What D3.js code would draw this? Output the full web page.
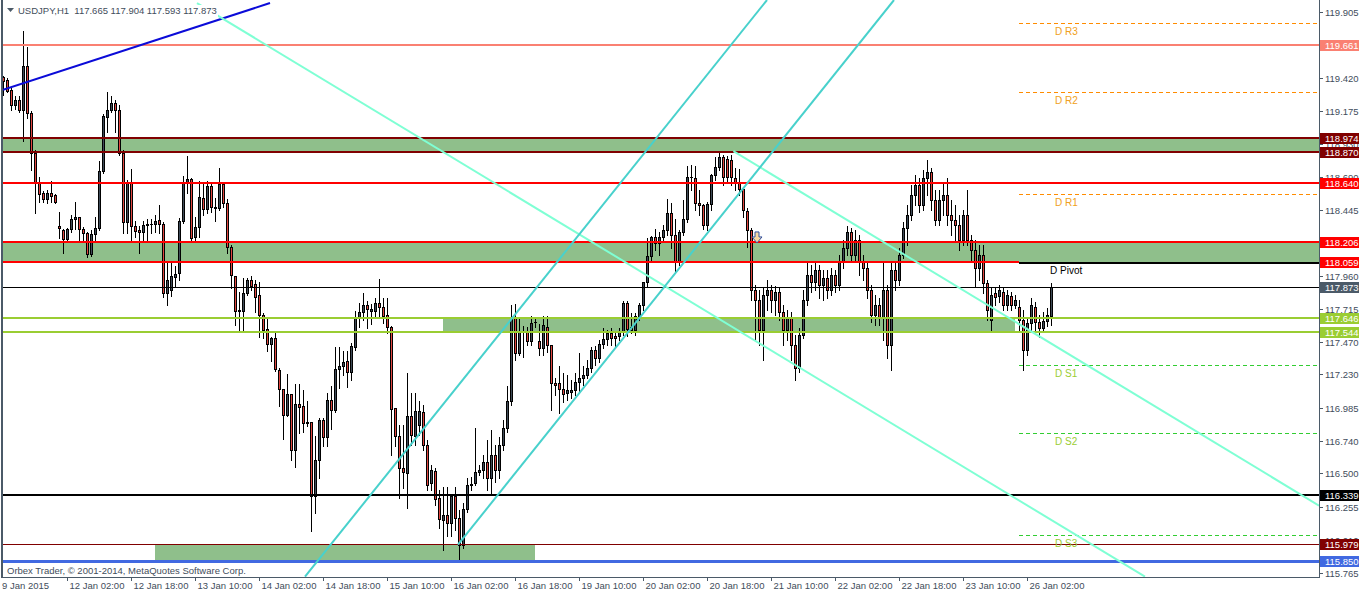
<!DOCTYPE html>
<html><head><meta charset="utf-8">
<script src="https://cdn.jsdelivr.net/npm/d3@7"></script>
<style>html,body{margin:0;padding:0;background:#fff;overflow:hidden}svg{display:block;font-family:"Liberation Sans",Arial,sans-serif}</style>
</head><body><svg id="chart" width="1362" height="594"></svg>
<script>
// ---------------- DATA ----------------
const headerText = "USDJPY,H1  117.665 117.904 117.593 117.873";
const copyrightText = "Orbex Trader, \u00a9 2001-2014, MetaQuotes Software Corp.";
// H1 candles, [open, high, low, close], first bar 9 Jan 2015 10:00
const ohlc = [
[119.425,119.433,119.293,119.396],[119.404,119.418,119.315,119.323],[119.330,119.345,119.182,119.219],[119.219,119.286,119.189,119.256],
[119.256,119.286,119.167,119.182],[119.182,119.765,118.954,119.507],[119.507,119.647,119.123,119.160],[119.160,119.175,118.740,118.865],
[118.865,118.887,118.423,118.651],[118.651,118.688,118.504,118.563],[118.570,118.587,118.506,118.526],[118.526,118.592,118.497,118.570],
[118.570,118.659,118.506,118.548],[118.555,118.563,118.499,118.506],[118.327,118.428,118.236,118.310],[118.297,118.305,118.128,118.231],
[118.231,118.310,118.204,118.305],[118.305,118.408,118.278,118.378],[118.378,118.506,118.302,118.393],[118.393,118.395,118.211,118.302],
[118.302,118.317,118.211,118.273],[118.273,118.285,118.096,118.118],[118.118,118.297,118.106,118.266],[118.268,118.395,118.218,118.312],
[118.312,118.806,118.297,118.732],[118.732,119.153,118.718,119.138],[119.133,119.317,119.022,119.182],[119.182,119.286,119.167,119.236],
[119.236,119.256,119.022,119.182],[119.182,119.219,118.850,118.867],[118.865,118.887,118.275,118.356],[118.356,118.666,118.275,118.651],
[118.651,118.745,118.211,118.327],[118.327,118.366,118.248,118.292],[118.297,118.327,118.126,118.278],[118.278,118.359,118.217,118.334],
[118.334,118.376,118.217,118.339],[118.339,118.376,118.273,118.341],[118.339,118.408,118.278,118.364],[118.371,118.482,118.275,118.339],
[118.339,118.356,117.805,117.830],[117.830,118.052,117.744,117.929],[117.855,118.052,117.811,117.958],[117.953,118.027,117.879,117.973],
[117.978,118.384,117.929,118.364],[118.364,118.696,118.349,118.654],[118.654,118.843,118.568,118.671],[118.671,118.681,118.211,118.236],
[118.243,118.395,118.211,118.317],[118.317,118.661,118.248,118.538],[118.531,118.654,118.408,118.450],[118.450,118.659,118.420,118.622],
[118.622,118.654,118.432,118.465],[118.465,118.531,118.359,118.457],[118.457,118.757,118.445,118.637],[118.637,118.646,118.465,118.494],
[118.494,118.524,118.126,118.170],[118.170,118.187,117.870,117.966],[117.958,117.958,117.597,117.695],[117.708,117.842,117.547,117.695],
[117.700,117.940,117.547,117.830],[117.830,117.945,117.818,117.929],[117.929,117.958,117.855,117.884],[117.897,117.929,117.688,117.805],
[117.818,117.916,117.506,117.666],[117.666,117.686,117.501,117.560],[117.565,117.648,117.400,117.457],[117.457,117.508,117.326,117.499],
[117.499,117.547,117.253,117.270],[117.265,117.277,116.994,117.123],[117.123,117.125,116.754,116.928],[116.928,117.236,116.921,117.086],
[117.086,117.088,116.601,116.670],[116.670,117.159,116.544,117.012],[117.014,117.161,116.800,116.990],[116.994,117.117,116.802,116.872],
[116.876,117.031,116.847,116.872],[116.876,116.881,116.073,116.336],[116.331,116.776,116.211,116.601],[116.601,116.909,116.467,116.891],
[116.896,116.909,116.699,116.769],[116.769,117.095,116.699,117.044],[117.044,117.142,116.830,116.970],[116.970,117.435,116.955,117.272],
[117.272,117.433,117.130,117.294],[117.289,117.400,117.228,117.324],[117.329,117.400,117.134,117.245],[117.245,117.464,117.191,117.437],
[117.430,117.695,117.413,117.651],[117.651,117.761,117.580,117.690],[117.690,117.830,117.634,117.744],[117.744,117.769,117.572,117.713],
[117.695,117.749,117.604,117.713],[117.695,117.794,117.648,117.761],[117.761,117.934,117.648,117.727],[117.727,117.794,117.612,117.663],
[117.671,117.796,117.535,117.584],[117.584,117.589,116.638,116.975],[116.982,116.985,116.699,116.773],[116.773,116.859,116.319,116.540],
[116.540,116.859,116.392,116.508],[116.503,117.240,116.245,116.920],[116.920,117.095,116.712,116.786],[116.773,117.095,116.712,116.957],
[116.859,117.031,116.786,116.957],[116.953,117.007,116.675,116.712],[116.712,116.749,116.380,116.417],[116.429,116.564,116.380,116.522],
[116.515,116.542,116.269,116.311],[116.319,116.380,116.100,116.164],[116.159,116.400,115.937,116.196],[116.196,116.400,116.041,116.134],
[116.134,116.343,116.036,116.336],[116.336,116.400,116.085,116.171],[116.171,116.232,115.864,115.974],[115.974,116.282,115.952,116.237],
[116.237,116.466,116.218,116.417],[116.417,116.476,116.380,116.422],[116.429,116.836,116.417,116.508],[116.508,116.564,116.490,116.522],
[116.527,116.638,116.469,116.586],[116.586,116.749,116.380,116.469],[116.469,116.822,116.343,116.638],[116.638,116.712,116.439,116.527],
[116.527,116.771,116.469,116.712],[116.712,116.896,116.675,116.836],[116.836,117.142,116.808,117.031],[117.031,117.744,117.007,117.639],
[117.646,117.752,117.339,117.388],[117.388,117.639,117.376,117.553],[117.553,117.589,117.356,117.548],[117.553,117.577,117.450,117.474],
[117.474,117.664,117.450,117.609],[117.614,117.646,117.584,117.617],[117.474,117.599,117.376,117.425],[117.425,117.658,117.376,117.597],
[117.584,117.658,117.398,117.450],[117.450,117.450,116.970,117.167],[117.167,117.206,117.081,117.154],[117.167,117.289,116.946,117.123],
[117.123,117.240,117.029,117.088],[117.093,117.228,117.044,117.117],[117.098,117.191,117.058,117.117],[117.112,117.240,117.081,117.171],
[117.171,117.388,117.093,117.204],[117.204,117.289,117.154,117.228],[117.228,117.339,117.206,117.277],[117.277,117.432,117.250,117.407],
[117.407,117.437,117.302,117.351],[117.351,117.481,117.319,117.457],[117.457,117.572,117.428,117.491],[117.491,117.560,117.450,117.535],
[117.535,117.572,117.450,117.499],[117.516,117.547,117.437,117.499],[117.516,117.572,117.486,117.543],[117.543,117.769,117.523,117.757],
[117.757,117.769,117.516,117.565],[117.580,117.683,117.538,117.560],[117.560,117.683,117.523,117.658],[117.658,117.757,117.634,117.744],
[117.744,117.916,117.708,117.909],[117.909,118.236,117.879,118.106],[118.106,118.253,118.062,118.243],[118.243,118.302,118.150,118.199],
[118.199,118.285,118.113,118.243],[118.243,118.334,118.224,118.297],[118.297,118.524,118.261,118.420],[118.420,118.499,118.162,118.261],
[118.261,118.376,117.990,118.064],[118.064,118.297,118.040,118.285],[118.285,118.519,118.261,118.376],[118.376,118.770,118.356,118.686],
[118.686,118.777,118.592,118.688],[118.679,118.770,118.445,118.499],[118.499,118.592,118.408,118.482],[118.482,118.489,118.302,118.334],
[118.334,118.506,118.297,118.489],[118.489,118.710,118.445,118.703],[118.703,118.834,118.666,118.764],[118.764,118.863,118.740,118.834],
[118.834,118.851,118.629,118.686],[118.819,118.843,118.642,118.686],[118.814,118.851,118.629,118.690],[118.679,118.752,118.592,118.654],
[118.654,118.745,118.555,118.597],[118.597,118.605,118.395,118.445],[118.440,118.457,118.174,118.297],[118.297,118.312,117.781,117.855],
[117.855,117.892,117.486,117.781],[117.781,117.855,117.450,117.560],[117.560,117.870,117.339,117.818],[117.818,117.929,117.708,117.855],
[117.855,117.892,117.693,117.781],[117.781,117.884,117.671,117.840],[117.840,117.870,117.634,117.693],[117.693,117.744,117.450,117.560],
[117.560,117.708,117.486,117.648],[117.648,117.693,117.339,117.450],[117.450,117.523,117.191,117.280],[117.280,117.575,117.250,117.523],
[117.523,117.855,117.501,117.781],[117.781,118.062,117.744,117.966],[117.966,118.040,117.840,117.914],[117.914,118.062,117.855,118.003],
[118.003,118.040,117.796,117.892],[117.892,118.003,117.781,117.943],[117.943,118.003,117.796,117.855],[117.855,118.017,117.818,117.966],
[117.966,118.003,117.840,117.892],[117.892,118.113,117.855,118.062],[118.062,118.224,118.017,118.165],[118.165,118.327,118.113,118.283],
[118.283,118.312,118.062,118.113],[118.113,118.297,118.062,118.224],[118.224,118.261,117.966,118.062],[118.062,118.113,117.929,118.017],
[118.017,118.062,117.796,117.855],[117.855,117.892,117.619,117.671],[117.671,117.818,117.597,117.744],[117.744,117.796,117.597,117.648],
[117.648,118.062,117.486,117.855],[117.855,117.892,117.354,117.450],[117.450,118.062,117.265,118.003],[118.003,118.062,117.855,117.929],
[117.929,118.165,117.892,118.113],[118.113,118.356,118.091,118.312],[118.312,118.482,118.187,118.408],[118.408,118.629,118.371,118.555],
[118.555,118.703,118.482,118.629],[118.629,118.681,118.430,118.482],[118.482,118.740,118.445,118.681],[118.681,118.814,118.555,118.725],
[118.725,118.755,118.445,118.519],[118.519,118.592,118.334,118.371],[118.371,118.592,118.334,118.519],[118.519,118.651,118.408,118.555],
[118.555,118.681,118.334,118.408],[118.408,118.519,118.261,118.371],[118.371,118.482,118.224,118.334],[118.334,118.408,118.150,118.224],
[118.224,118.445,118.187,118.408],[118.408,118.592,118.187,118.224],[118.224,118.261,118.062,118.150],[118.150,118.224,117.877,118.017],
[118.017,118.187,117.929,118.113],[118.113,118.187,117.833,117.907],[117.907,117.929,117.634,117.708],[117.634,117.870,117.545,117.818],
[117.833,117.870,117.744,117.803],[117.811,117.892,117.766,117.855],[117.840,117.870,117.708,117.744],[117.744,117.855,117.708,117.818],
[117.811,117.840,117.708,117.744],[117.744,117.818,117.722,117.781],[117.730,117.781,117.560,117.634],[117.634,117.708,117.265,117.413],
[117.413,117.648,117.376,117.612],[117.612,117.796,117.560,117.744],[117.730,117.766,117.560,117.619],[117.619,117.671,117.508,117.575],
[117.575,117.693,117.545,117.626],[117.626,117.722,117.590,117.671],[117.665,117.904,117.593,117.873]
];
const timeLabels = ["9 Jan 2015","12 Jan 02:00","12 Jan 18:00","13 Jan 10:00","14 Jan 02:00","14 Jan 18:00","15 Jan 10:00","16 Jan 02:00","16 Jan 18:00","19 Jan 10:00","20 Jan 02:00","20 Jan 18:00","21 Jan 10:00","22 Jan 02:00","22 Jan 18:00","23 Jan 10:00","26 Jan 02:00"];
const timeLabelBars = [0,16,32,48,64,80,96,112,128,144,160,176,192,208,224,240,256];
// visible price-scale labels (the ones at 119.660 and 118.200 sit fully under level boxes)
const priceTicks = [119.905,119.420,119.175,118.930,118.690,118.445,117.960,117.715,117.470,117.230,116.985,116.740,116.500,116.255,116.010,115.765];
const levelPrices = [119.661,118.974,118.870,118.640,118.206,118.059,117.873,117.646,117.544,116.339,115.979,115.850];
const zonePrices = [[118.974,118.870],[118.206,118.059],[117.646,117.544],[115.979,115.850]];
const zoneBars = [[null,null],[null,null],[110,253],[38,133]];
const pivotNames = ["D R3","D R2","D R1","D Pivot","D S1","D S2","D S3"];
const pivotPrices = [119.822,119.312,118.562,118.056,117.298,116.796,116.045];
const pivotStartBar = 254;
// trend lines: two anchor points [bar, price]
const trendLines = [
  [[0,119.330],[66.75,119.971]],
  [[48.5,119.971],[285.5,115.738]],
  [[182.6,118.878],[329,116.262]],
  [[75.5,115.738],[191,119.9935]],
  [[113.75,115.974],[222.75,119.9935]]
];
const sellArrow = [188.5, 118.245];

// ---------------- LAYOUT ----------------
const W = 1362, H = 594;
const plotL = 3, plotR = 1319, plotT = 0, plotB = 577;
const x = d3.scaleLinear().domain([0, 262]).range([3, 1051]);
const y = d3.scaleLinear().domain([115.765, 119.905]).range([573, 12]);
const axisColor = "#4b5a68";
const textColor = "#3f4d5b";

const svg = d3.select("#chart");
svg.append("rect").attr("width", W).attr("height", H).attr("fill", "#fff");
svg.append("defs").append("clipPath").attr("id","plotclip")
  .append("rect").attr("x",plotL).attr("y",plotT).attr("width",plotR-plotL).attr("height",plotB-plotT);
const plot = svg.append("g").attr("clip-path","url(#plotclip)");

// zones (background)
const zoneColor = "#8fbf8b";
zonePrices.forEach((z,i)=>{
  const xb = zoneBars[i];
  const x0 = xb[0]==null ? plotL : x(xb[0]);
  const x1 = xb[1]==null ? plotR : x(xb[1]);
  const y0 = Math.round(y(z[0])), y1 = Math.round(y(z[1]));
  plot.append("rect").attr("x",x0).attr("y",y0).attr("width",x1-x0).attr("height",y1-y0).attr("fill",zoneColor);
});

// candles
const cg = plot.append("g");
ohlc.forEach((d,i)=>{
  const [o,h,l,c] = d;
  const px = Math.round(x(i));
  cg.append("line").attr("x1",px+0.5).attr("x2",px+0.5)
    .attr("y1",Math.round(y(h))).attr("y2",Math.round(y(l))+1)
    .attr("stroke","#000").attr("stroke-width",1);
  const yt = Math.round(y(Math.max(o,c))), yb = Math.round(y(Math.min(o,c)));
  if (yb - yt < 1) {
    cg.append("line").attr("x1",px-1).attr("x2",px+2).attr("y1",yt+0.5).attr("y2",yt+0.5)
      .attr("stroke","#000").attr("stroke-width",1);
  } else {
    cg.append("rect").attr("x",px-0.5).attr("y",yt+0.5).attr("width",2).attr("height",yb-yt)
      .attr("fill", c>=o ? "#3e4a57" : "#e0453f").attr("stroke","#000").attr("stroke-width",1);
  }
});

// horizontal levels
const levelStyle = [
  ["#fa8072",2],["#800000",2],["#800000",2],["#ff0000",2],["#ff0000",2],["#ff0000",2],
  ["#000000",1],["#9acd32",2],["#9acd32",2],["#000000",2],["#800000",1],["#4169e1",3]
];
levelPrices.forEach((p,i)=>{
  const yy = Math.round(y(p)) + (levelStyle[i][1]%2 ? 0.5 : 0);
  const x1 = (i===5) ? x(pivotStartBar) : plotR;
  plot.append("line").attr("x1",plotL).attr("x2",x1).attr("y1",yy).attr("y2",yy)
    .attr("stroke",levelStyle[i][0]).attr("stroke-width",levelStyle[i][1]);
});

// pivots
const pivotColors = ["#ff8c00","#ff8c00","#ff8c00","#000000","#32cd32","#32cd32","#32cd32"];
const pivotTextColors = ["#f0a020","#f0a020","#f0a020","#000000","#9acd32","#9acd32","#9acd32"];
pivotPrices.forEach((p,i)=>{
  const isPivot = i===3;
  const yy = Math.round(y(p)) + (isPivot?0:0.5);
  plot.append("line").attr("x1",x(pivotStartBar)).attr("x2",plotR).attr("y1",yy).attr("y2",yy)
    .attr("stroke",pivotColors[i]).attr("stroke-width",isPivot?2:1)
    .attr("stroke-dasharray",isPivot?null:"4,3");
  plot.append("text").attr("x", x(pivotStartBar) + (isPivot?31:36)).attr("y", yy+11)
    .attr("font-size",10).attr("fill",pivotTextColors[i]).text(pivotNames[i]);
});

// trend lines
const trendColors = ["#0b0bd8","#7fffd4","#7fffd4","#48d1cc","#48d1cc"];
trendLines.forEach((t,i)=>{
  plot.append("line").attr("x1",x(t[0][0])).attr("y1",y(t[0][1])).attr("x2",x(t[1][0])).attr("y2",y(t[1][1]))
    .attr("stroke",trendColors[i]).attr("stroke-width",2);
});

// sell arrow marker
{
  const ax = x(sellArrow[0]), ay = y(sellArrow[1]);
  const path = `M${ax-2},${ay-5} h4 v5 h3 l-5,6 l-5,-6 h3 z`;
  plot.append("path").attr("d",path).attr("fill","#f6d7a0").attr("stroke","#3050a0").attr("stroke-width",1);
}

// header (drawn on an opaque strip, as the terminal does) & copyright
svg.append("rect").attr("x",16).attr("y",5).attr("width",202).attr("height",13).attr("fill","#fff");
svg.append("path").attr("d","M7,8 h7 l-3.5,4 z").attr("fill","#4b5a68");
svg.append("text").attr("x",18).attr("y",14).attr("font-size",9.5).attr("fill",textColor).attr("xml:space","preserve").text(headerText);
svg.append("text").attr("x",7).attr("y",574).attr("font-size",9.5).attr("fill",textColor).text(copyrightText);

// frame
svg.append("line").attr("x1",2).attr("x2",2).attr("y1",0).attr("y2",plotB).attr("stroke",axisColor).attr("stroke-width",2);
svg.append("line").attr("x1",1319.5).attr("x2",1319.5).attr("y1",0).attr("y2",plotB+1).attr("stroke",axisColor).attr("stroke-width",1);
svg.append("line").attr("x1",1).attr("x2",1320).attr("y1",plotB+0.5).attr("y2",plotB+0.5).attr("stroke",axisColor).attr("stroke-width",1);

// price axis
const pa = svg.append("g");
priceTicks.forEach(p=>{
  const yy = Math.round(y(p))+0.5;
  pa.append("line").attr("x1",1320).attr("x2",1323).attr("y1",yy).attr("y2",yy).attr("stroke",axisColor);
  pa.append("text").attr("x",1325).attr("y",yy+3.5).attr("font-size",9.5).attr("fill",textColor).text(p.toFixed(3));
});
// price boxes
const boxColors = ["#fa8072","#800000","#800000","#ff0000","#ff0000","#ff0000","#4b5a68","#9acd32","#9acd32","#000000","#800000","#4169e1"];
levelPrices.forEach((p,i)=>{
  const yy = Math.round(y(p));
  pa.append("rect").attr("x",1320).attr("y",yy-5).attr("width",39).attr("height",11).attr("fill",boxColors[i]);
  pa.append("text").attr("x",1325).attr("y",yy+4).attr("font-size",9.5).attr("fill","#fff").text(p.toFixed(3));
});

// time axis
const ta = svg.append("g");
timeLabels.forEach((lab,i)=>{
  const xx = Math.round(x(timeLabelBars[i]))+0.5;
  if (i>0) ta.append("line").attr("x1",xx).attr("x2",xx).attr("y1",plotB).attr("y2",plotB+4).attr("stroke",axisColor);
  ta.append("text").attr("x", i===0 ? 2 : xx+2).attr("y",589).attr("font-size",9.5).attr("fill",textColor).text(lab);
});
</script></body></html>
